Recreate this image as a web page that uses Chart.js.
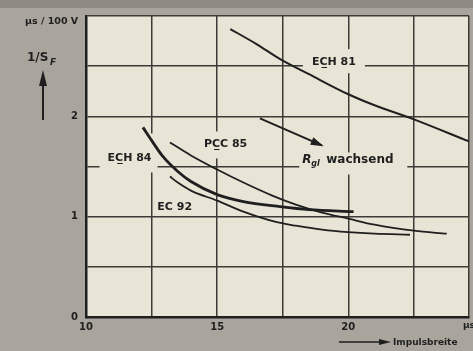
<!DOCTYPE html>
<html>
<head>
<meta charset="utf-8">
<script src="https://cdn.jsdelivr.net/npm/chart.js@4/dist/chart.umd.min.js"></script>
<style>
html,body{margin:0;padding:0;background:#a9a59c;overflow:hidden;}
canvas{display:block;}
</style>
</head>
<body>
<canvas id="c" width="473" height="351"></canvas>
<script>
// ---- data ----
const ech81X = [15.5, 16.5, 17.4, 18.5, 20.0, 21.0, 22.5, 24.6];
const ech81Y = [2.87, 2.72, 2.57, 2.42, 2.22, 2.11, 1.97, 1.75];

const ech84X = [12.17, 12.5, 12.93, 13.5, 14.0, 15.0, 16.0, 17.4, 18.5, 20.2];
const ech84Y = [1.89, 1.76, 1.60, 1.45, 1.35, 1.22, 1.15, 1.10, 1.07, 1.05];

const pcc85X = [13.2, 14.0, 15.0, 16.0, 17.1, 18.0, 19.0, 20.0, 21.0, 22.5, 23.75];
const pcc85Y = [1.74, 1.61, 1.47, 1.34, 1.21, 1.12, 1.04, 0.98, 0.92, 0.86, 0.83];

const ec92X = [13.2, 13.5, 14.0, 15.0, 16.0, 17.2, 18.0, 19.0, 20.0, 21.0, 22.35];
const ec92Y = [1.40, 1.34, 1.26, 1.16, 1.05, 0.95, 0.91, 0.87, 0.845, 0.83, 0.82];

const xTickLabels = [10, 15, 20];
const yTickLabels = [0, 1, 2];

const seriesNames = ['EC\u0332H 81', 'EC\u0332H 84', 'PC\u0332C 85', 'EC 92'];
// label anchor positions in data units: [x, y]
const labelPos = [[19.45, 2.54], [11.66, 1.58], [15.32, 1.72], [13.38, 1.09]];
const rglText = 'wachsend';
const rglPos = [20.15, 1.57];
const arrowFrom = [16.63, 1.98];
const arrowTo = [18.99, 1.71];

function pts(xs, ys){ return xs.map((x,i)=>({x:x, y:ys[i]})); }

const ink = '#1f1f1f';
const paper = '#e8e4d6';
const grey = '#a9a59c';

const bgPlugin = {
  id:'bg',
  beforeDraw(chart){
    const {ctx, chartArea:a} = chart;
    ctx.save();
    ctx.fillStyle = grey;
    ctx.fillRect(0,0,chart.width,chart.height);
    ctx.fillStyle = '#8f8b83';
    ctx.fillRect(0,0,chart.width,8);
    ctx.fillStyle = paper;
    ctx.fillRect(a.left,a.top,a.right-a.left,a.bottom-a.top);
    ctx.restore();
  },
  beforeDatasetsDraw(chart){
    // paper-coloured boxes that knock out the grid behind the labels
    const {ctx, scales:{x,y}} = chart;
    ctx.save();
    ctx.fillStyle = paper;
    const boxes = [
      [labelPos[0], 31, 13, 31, 11],
      [labelPos[1], 30, 25, 28, 14],
      [labelPos[2], 26, 13, 26, 14],
      [rglPos, 53, 7, 55, 15]
    ];
    boxes.forEach(([p,l,t,r,b])=>{
      const px = x.getPixelForValue(p[0]), py = y.getPixelForValue(p[1]);
      ctx.fillRect(px-l, py-t, l+r, t+b);
    });
    ctx.restore();
  },
  afterDatasetsDraw(chart){
    const {ctx, scales:{x,y}, chartArea:a} = chart;
    ctx.save();
    ctx.fillStyle = ink;
    ctx.strokeStyle = ink;
    ctx.textBaseline = 'middle';
    ctx.textAlign = 'center';
    ctx.font = 'bold 11px "DejaVu Sans", sans-serif';
    seriesNames.forEach((n,i)=>{
      ctx.fillText(n, x.getPixelForValue(labelPos[i][0]), y.getPixelForValue(labelPos[i][1]));
    });
    // R_gl wachsend
    const rx = x.getPixelForValue(rglPos[0]), ry = y.getPixelForValue(rglPos[1]);
    ctx.textAlign = 'left';
    ctx.font = 'bold italic 12px "DejaVu Sans", sans-serif';
    ctx.fillText('R', rx-50, ry);
    ctx.font = 'bold italic 8px "DejaVu Sans", sans-serif';
    ctx.fillText('gl', rx-41, ry+4);
    ctx.font = 'bold 12px "DejaVu Sans", sans-serif';
    ctx.fillText(rglText, rx-26, ry);
    // arrow
    const x0 = x.getPixelForValue(arrowFrom[0]), y0 = y.getPixelForValue(arrowFrom[1]);
    const x1 = x.getPixelForValue(arrowTo[0]), y1 = y.getPixelForValue(arrowTo[1]);
    ctx.lineWidth = 2;
    ctx.beginPath(); ctx.moveTo(x0,y0); ctx.lineTo(x1,y1); ctx.stroke();
    const ang = Math.atan2(y1-y0, x1-x0);
    ctx.beginPath();
    ctx.moveTo(x1+2*Math.cos(ang), y1+2*Math.sin(ang));
    ctx.lineTo(x1-11*Math.cos(ang)+4*Math.sin(ang), y1-11*Math.sin(ang)-4*Math.cos(ang));
    ctx.lineTo(x1-11*Math.cos(ang)-4*Math.sin(ang), y1-11*Math.sin(ang)+4*Math.cos(ang));
    ctx.closePath(); ctx.fill();
    ctx.restore();
  },
  afterDraw(chart){
    const {ctx, chartArea:a} = chart;
    ctx.save();
    ctx.fillStyle = ink; ctx.strokeStyle = ink;
    ctx.textBaseline = 'middle';
    ctx.textAlign = 'left';
    ctx.font = 'bold 9.5px "DejaVu Sans", sans-serif';
    ctx.fillText('\u00b5s / 100 V', a.left-61, a.top+6);
    ctx.font = 'bold 12px "DejaVu Sans", sans-serif';
    ctx.fillText('1/S', a.left-59, a.top+42);
    ctx.font = 'bold italic 9px "DejaVu Sans", sans-serif';
    ctx.fillText('F', a.left-36, a.top+47);
    // vertical arrow
    const ax = a.left-43;
    ctx.lineWidth = 2;
    ctx.beginPath(); ctx.moveTo(ax, a.top+104); ctx.lineTo(ax, a.top+66); ctx.stroke();
    ctx.beginPath(); ctx.moveTo(ax, a.top+54); ctx.lineTo(ax-4, a.top+70); ctx.lineTo(ax+4, a.top+70); ctx.closePath(); ctx.fill();
    // x unit and title
    ctx.font = 'bold 9px "DejaVu Sans", sans-serif';
    ctx.fillText('\u00b5s', a.right-6, a.bottom+9);
    ctx.lineWidth = 1.5;
    ctx.beginPath(); ctx.moveTo(a.right-130, a.bottom+25); ctx.lineTo(a.right-86, a.bottom+25); ctx.stroke();
    ctx.beginPath(); ctx.moveTo(a.right-78, a.bottom+25); ctx.lineTo(a.right-90, a.bottom+22); ctx.lineTo(a.right-90, a.bottom+28); ctx.closePath(); ctx.fill();
    ctx.font = 'bold 9px "DejaVu Sans", sans-serif';
    ctx.fillText('Impulsbreite', a.right-76, a.bottom+26);
    ctx.restore();
  }
};

function ds(xs, ys, w){
  return {data: pts(xs, ys), borderColor: ink, borderWidth: w, pointRadius: 0,
          fill: false, cubicInterpolationMode: 'monotone', tension: 0.4};
}

new Chart(document.getElementById('c'), {
  type: 'line',
  data: {
    datasets: [
      ds(ech81X, ech81Y, 2),
      ds(ech84X, ech84Y, 2.8),
      ds(pcc85X, pcc85Y, 1.8),
      ds(ec92X, ec92Y, 1.8)
    ]
  },
  options: {
    responsive: false,
    animation: false,
    layout: {padding: {top: 16, right: 3, left: 0, bottom: 0}},
    plugins: {legend: {display: false}, tooltip: {enabled: false}},
    scales: {
      x: {
        type: 'linear', min: 10, max: 24.6,
        afterFit(s){ s.height = 34; },
        ticks: {
          stepSize: 2.5, autoSkip: false, maxRotation: 0, padding: 4,
          color: ink, font: {family: '"DejaVu Sans", sans-serif', size: 10, weight: 'bold'},
          callback: v => xTickLabels.includes(v) ? String(v) : ''
        },
        grid: {color: '#3d3b37', lineWidth: 1.5, drawTicks: false},
        border: {color: ink, width: 2.5}
      },
      y: {
        type: 'linear', min: 0, max: 3,
        afterFit(s){ s.width = 86; },
        ticks: {
          stepSize: 0.5, autoSkip: false, padding: 8,
          color: ink, font: {family: '"DejaVu Sans", sans-serif', size: 10, weight: 'bold'},
          callback: v => yTickLabels.includes(v) ? String(v) : ''
        },
        grid: {color: '#3d3b37', lineWidth: 1.5, drawTicks: false},
        border: {color: ink, width: 2.5}
      }
    }
  },
  plugins: [bgPlugin]
});
</script>
</body>
</html>
